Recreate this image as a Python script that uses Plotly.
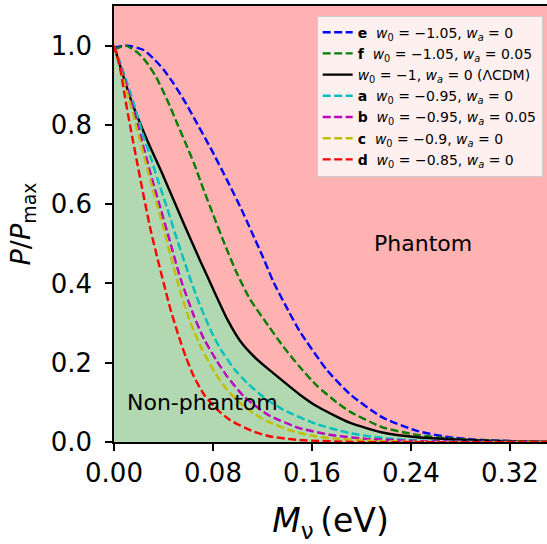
import plotly.graph_objects as go

# --- data ---
x_lcdm = [0, 0.0135, 0.027, 0.040, 0.0565, 0.07, 0.081, 0.0915, 0.102, 0.116, 0.129, 0.15, 0.164, 0.191, 0.217, 0.245, 0.271, 0.30, 0.35]
y_lcdm = [1.0, 0.865, 0.76, 0.67, 0.55, 0.455, 0.38, 0.31, 0.255, 0.207, 0.173, 0.12, 0.09, 0.048, 0.024, 0.012, 0.007, 0.003, 0.001]

x_e = [0, 0.011, 0.024, 0.032, 0.040, 0.048, 0.058, 0.066, 0.078, 0.0923, 0.103, 0.111, 0.1206, 0.1287, 0.1408, 0.15, 0.172, 0.191, 0.217, 0.245, 0.271, 0.298, 0.35]
y_e = [0.995, 1.0, 0.989, 0.967, 0.94, 0.905, 0.855, 0.81, 0.742, 0.655, 0.587, 0.532, 0.465, 0.405, 0.332, 0.28, 0.182, 0.12, 0.062, 0.028, 0.012, 0.005, 0.0]

x_f = [0, 0.0094, 0.020, 0.027, 0.034, 0.043, 0.051, 0.058, 0.065, 0.072, 0.080, 0.090, 0.099, 0.11, 0.121, 0.137, 0.15, 0.164, 0.18, 0.191, 0.217, 0.245, 0.271, 0.30, 0.35]
y_f = [0.99, 1.0, 0.98, 0.955, 0.921, 0.863, 0.804, 0.753, 0.70, 0.64, 0.575, 0.495, 0.428, 0.36, 0.31, 0.24, 0.19, 0.142, 0.10, 0.076, 0.037, 0.018, 0.009, 0.004, 0.0]

x_a = [0, 0.008, 0.016, 0.024, 0.030, 0.035, 0.043, 0.05, 0.058, 0.067, 0.078, 0.086, 0.097, 0.108, 0.121, 0.137, 0.164, 0.191, 0.217, 0.25, 0.3, 0.35]
y_a = [1.0, 0.93, 0.854, 0.77, 0.715, 0.665, 0.59, 0.52, 0.445, 0.365, 0.283, 0.235, 0.185, 0.148, 0.113, 0.081, 0.045, 0.022, 0.01, 0.003, 0.0, 0.0]

x_b = [0, 0.01, 0.02, 0.03, 0.038, 0.0444, 0.054, 0.0646, 0.0727, 0.083, 0.0915, 0.105, 0.1185, 0.1265, 0.15, 0.177, 0.204, 0.25, 0.3, 0.35]
y_b = [1.0, 0.9, 0.79, 0.672, 0.585, 0.515, 0.41, 0.318, 0.26, 0.205, 0.165, 0.115, 0.081, 0.065, 0.035, 0.017, 0.008, 0.002, 0.0, 0.0]

x_c = [0, 0.012, 0.019, 0.026, 0.032, 0.0404, 0.047, 0.054, 0.062, 0.071, 0.081, 0.0915, 0.102, 0.113, 0.124, 0.142, 0.158, 0.177, 0.21, 0.25, 0.35]
y_c = [1.0, 0.865, 0.785, 0.70, 0.63, 0.535, 0.455, 0.375, 0.30, 0.235, 0.178, 0.131, 0.098, 0.072, 0.052, 0.03, 0.017, 0.009, 0.003, 0.0, 0.0]

x_d = [0, 0.0027, 0.0054, 0.0094, 0.0135, 0.019, 0.024, 0.0296, 0.035, 0.0404, 0.0458, 0.0525, 0.058, 0.0646, 0.0727, 0.083, 0.094, 0.113, 0.1265, 0.15, 0.2, 0.35]
y_d = [1.0, 0.972, 0.935, 0.86, 0.79, 0.70, 0.62, 0.535, 0.465, 0.398, 0.333, 0.265, 0.215, 0.165, 0.12, 0.083, 0.055, 0.026, 0.014, 0.005, 0.0, 0.0]

x_ticks = [0.0, 0.08, 0.16, 0.24, 0.32]
y_ticks = [0.0, 0.2, 0.4, 0.6, 0.8, 1.0]

names = {
    "e": "<b>e</b>  <i>w</i><sub>0</sub> = −1.05, <i>w<sub>a</sub></i> = 0",
    "f": "<b>f</b>  <i>w</i><sub>0</sub> = −1.05, <i>w<sub>a</sub></i> = 0.05",
    "lcdm": "<i>w</i><sub>0</sub> = −1, <i>w<sub>a</sub></i> = 0 (ΛCDM)",
    "a": "<b>a</b>  <i>w</i><sub>0</sub> = −0.95, <i>w<sub>a</sub></i> = 0",
    "b": "<b>b</b>  <i>w</i><sub>0</sub> = −0.95, <i>w<sub>a</sub></i> = 0.05",
    "c": "<b>c</b>  <i>w</i><sub>0</sub> = −0.9, <i>w<sub>a</sub></i> = 0",
    "d": "<b>d</b>  <i>w</i><sub>0</sub> = −0.85, <i>w<sub>a</sub></i> = 0",
}

FONT = "DejaVu Sans"
PINK = "#ffb2b2"
GREEN = "#b2d8b2"
DASH = "8px,3.5px"
SHAPE = dict(shape="spline", smoothing=0.6)

fig = go.Figure()

# green fill under LCDM curve
fig.add_trace(go.Scatter(x=x_lcdm, y=y_lcdm, mode="lines", line=dict(width=0, **SHAPE),
                         fill="tozeroy", fillcolor=GREEN, showlegend=False, hoverinfo="skip"))

series = [
    (x_e, y_e, "#0000ff", names["e"], DASH),
    (x_f, y_f, "#008000", names["f"], DASH),
    (x_lcdm, y_lcdm, "#000000", names["lcdm"], "solid"),
    (x_a, y_a, "#00bfbf", names["a"], DASH),
    (x_b, y_b, "#bf00bf", names["b"], DASH),
    (x_c, y_c, "#bfbf00", names["c"], DASH),
    (x_d, y_d, "#ff0000", names["d"], DASH),
]
for xs, ys, col, nm, dash in series:
    fig.add_trace(go.Scatter(x=xs, y=ys, mode="lines", name=nm,
                             line=dict(color=col, width=2.4, dash=dash, **SHAPE)))

fig.add_annotation(x=0.25, y=0.50, text="Phantom", showarrow=False,
                   font=dict(family=FONT, size=22, color="black"))
fig.add_annotation(x=0.0085, y=0.10, text="Non-phantom", showarrow=False, xanchor="left",
                   font=dict(family=FONT, size=22, color="black"))

axis_common = dict(showgrid=False, zeroline=False, showline=True, linecolor="black", linewidth=1.5,
                   mirror=True, ticks="outside", ticklen=7, tickwidth=1.5, tickcolor="black",
                   automargin=False,
                   tickfont=dict(family=FONT, size=26, color="black"))

fig.update_xaxes(range=[0, 0.35], tickvals=x_ticks, tickformat=".2f",
                 title=dict(text="<i>M</i><sub>ν</sub>\u2009(eV)", font=dict(family=FONT, size=33, color="black"), standoff=26),
                 **axis_common)
fig.update_yaxes(range=[0, 1.1], tickvals=y_ticks, tickformat=".1f", ticklabelstandoff=8,
                 title=dict(text="<i>P</i>/<i>P</i><sub>max</sub>", font=dict(family=FONT, size=27, color="black"), standoff=12),
                 **axis_common)

fig.update_layout(
    width=547, height=544,
    margin=dict(l=114, r=0, t=6, b=102, autoexpand=False),
    paper_bgcolor="white", plot_bgcolor=PINK,
    font=dict(family=FONT, color="black"),
    legend=dict(x=0.99, y=0.978, xanchor="right", yanchor="top",
                bgcolor="rgba(255,255,255,0.8)", bordercolor="#cccccc", borderwidth=1,
                font=dict(family=FONT, size=14, color="black"), itemwidth=30, tracegroupgap=0),
)

fig.write_html("out.html", config={"displayModeBar": False},
               post_script="document.body.style.margin='0px';")
